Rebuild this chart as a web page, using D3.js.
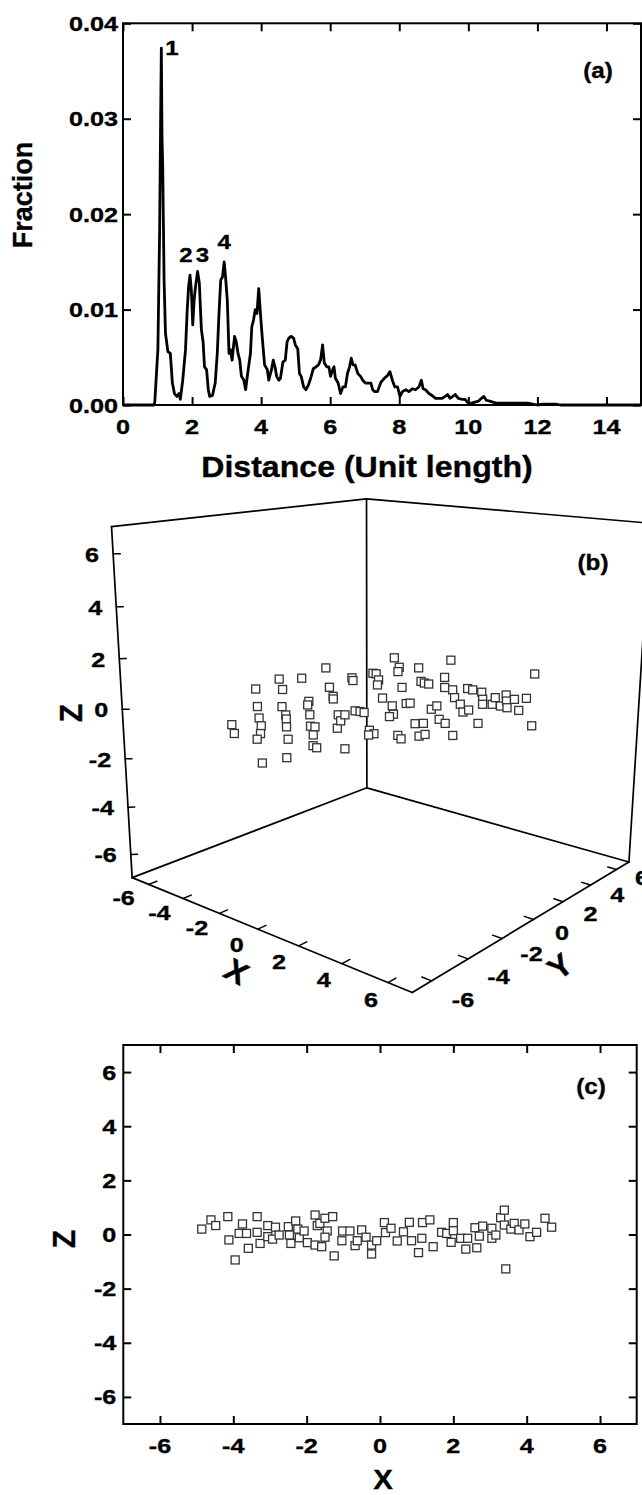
<!DOCTYPE html>
<html><head><meta charset="utf-8">
<script src="https://cdn.jsdelivr.net/npm/d3@7"></script>
<style>
html,body{margin:0;padding:0;background:#fff;}
svg{display:block;}
text{font-family:"Liberation Sans",Arial,Helvetica,sans-serif;font-weight:bold;fill:#000;stroke:#000;stroke-width:0.35px;}
</style></head><body>
<svg id="chart" width="642" height="1495"></svg>
<script>
// ---------------- Panel (a) data ----------------
const distance = [0,0.90,0.92,1.01,1.06,1.09,1.11,1.13,1.15,1.19,1.23,1.30,1.37,1.43,1.49,1.56,1.62,1.66,1.73,1.81,1.86,1.90,1.94,1.98,2.02,2.06,2.10,2.16,2.21,2.27,2.32,2.36,2.42,2.47,2.51,2.59,2.67,2.73,2.78,2.83,2.88,2.93,2.97,3.02,3.07,3.11,3.16,3.23,3.28,3.33,3.38,3.43,3.50,3.55,3.61,3.69,3.73,3.78,3.83,3.88,3.93,3.98,4.03,4.10,4.18,4.22,4.30,4.35,4.40,4.45,4.51,4.56,4.63,4.70,4.75,4.80,4.87,4.94,4.99,5.06,5.11,5.16,5.23,5.30,5.37,5.45,5.51,5.59,5.66,5.72,5.78,5.83,5.90,5.96,6.01,6.07,6.11,6.15,6.23,6.30,6.37,6.44,6.50,6.56,6.61,6.66,6.72,6.80,6.88,6.94,7.02,7.10,7.18,7.23,7.29,7.37,7.47,7.57,7.66,7.73,7.80,7.87,7.95,8.02,8.09,8.19,8.28,8.38,8.47,8.57,8.64,8.69,8.76,8.86,8.95,9.05,9.14,9.24,9.33,9.40,9.47,9.55,9.62,9.71,9.81,9.90,10.00,10.10,10.19,10.29,10.38,10.45,10.52,10.62,10.71,10.81,10.90,11.00,11.14,11.29,11.43,11.57,11.72,11.86,12.00,12.15,12.34,12.53,12.67,15];
const fraction = [0,0,0.0003,0.0058,0.0180,0.0300,0.0374,0.0280,0.0250,0.0130,0.0075,0.0056,0.0054,0.0023,0.0012,0.0009,0.0012,0.0006,0.0026,0.0058,0.0100,0.0124,0.0136,0.0120,0.0084,0.0110,0.0124,0.0140,0.0128,0.0079,0.0066,0.0040,0.0037,0.0016,0.0009,0.0010,0.0023,0.0054,0.0096,0.0131,0.0134,0.0150,0.0134,0.0110,0.0054,0.0058,0.0047,0.0072,0.0066,0.0054,0.0047,0.0030,0.0026,0.0016,0.0033,0.0054,0.0082,0.0089,0.0100,0.0096,0.0122,0.0096,0.0072,0.0042,0.0037,0.0026,0.0037,0.0047,0.0040,0.0030,0.0026,0.0028,0.0045,0.0047,0.0066,0.0070,0.0072,0.0070,0.0063,0.0059,0.0033,0.0030,0.0019,0.0016,0.0021,0.0030,0.0038,0.0040,0.0042,0.0047,0.0063,0.0044,0.0040,0.0040,0.0030,0.0037,0.0040,0.0028,0.0023,0.0012,0.0019,0.0019,0.0033,0.0040,0.0049,0.0042,0.0042,0.0033,0.0030,0.0026,0.0023,0.0023,0.0023,0.0016,0.0014,0.0014,0.0024,0.0028,0.0031,0.0035,0.0026,0.0019,0.0019,0.0009,0.0014,0.0016,0.0014,0.0017,0.0016,0.0019,0.0026,0.0017,0.0016,0.0012,0.0010,0.0007,0.0007,0.0007,0.0009,0.0011,0.0007,0.0009,0.0011,0.0007,0.0006,0.0006,0.0002,0.0002,0.0003,0.0004,0.0007,0.0009,0.0005,0.0004,0.0003,0.0002,0.0002,0.0002,0.0002,0.0002,0.0002,0.0002,0.0002,0.0001,0,0.0001,0.0001,0.0001,0,0];
const aXTicks = [0,2,4,6,8,10,12,14];
const aYTicks = [0,0.01,0.02,0.03,0.04];
const aYLabels = ["0.00","0.01","0.02","0.03","0.04"];
const peakText = ["1","2","3","4"];
const peakTextX = [1.42,1.82,2.30,2.93];
const peakTextY = [0.0367,0.0150,0.0150,0.0164];

// ---------------- Panel (b) data (x, y, z) ----------------
const bx = [-2.38,-1.50,-2.69,-3.46,-2.27,-1.48,-0.80,-0.40,-1.61,-3.10,-4.56,-2.75,-1.82,-1.42,-0.70,0.41,-0.31,-2.55,-2.51,-2.18,-1.17,-0.11,0.07,0.71,1.58,1.83,-3.00,-3.39,-2.31,-2.04,-0.37,0.79,0.24,-0.18,2.63,-3.75,-3.41,-0.26,-0.06,0.15,-3.61,-3.44,-2.68,-2.17,1.82,2.22,2.18,-0.68,-2.09,-3.46,-3.00,-1.16,0.34,1.12,1.22,2.98,3.33,0.53,0.61,-2.76,-1.20,-0.93,-0.69,2.52,2.72,3.60,3.63,1.76,1.63,2.83,3.32,4.44,0.42,-0.88,0.15,0.62,1.40,2.16,2.90,2.89,4.22,0.95,1.23,1.72,2.38,2.81,3.09,2.61,3.47,2.70,3.23,3.80,3.32,4.35,3.59,3.80,4.04];
const by = [-5.74,-6.44,-4.22,-3.42,-4.49,-5.15,-5.85,-6.40,-5.02,-2.59,-0.96,-2.82,-3.56,-3.94,-4.66,-5.71,-5.07,-1.93,-1.60,-2.01,-2.96,-4.04,-4.00,-4.77,-5.70,-5.79,-0.09,0.53,-0.43,-0.72,-2.28,-3.61,-2.82,-2.12,-5.26,2.30,1.98,-1.46,-1.41,-1.42,3.48,3.49,2.75,2.08,-3.06,-3.28,-3.52,0.63,3.05,5.05,4.40,2.42,-0.01,-0.88,-1.23,-2.89,-3.14,0.60,0.74,5.51,3.70,3.58,3.56,-1.35,-1.12,-2.48,-2.18,0.58,1.09,-0.33,-0.61,-1.65,3.55,4.88,3.53,3.44,2.52,1.87,1.04,1.41,0.16,4.00,3.96,3.89,3.03,2.42,2.66,3.55,2.66,4.17,3.42,2.62,3.83,2.59,4.26,4.46,4.01];
const bz = [0,0,1,0,0,0,0,0,-1.5,1,0,0,0,0,0,0,-1,1,0,0,0,0,0,0,0,0,1,0,0,0,0,0,0,0,0,0,0,0,0,0,0,0,0,0,0,0,0,0,1,0,0,0,0,0,0,0,0,0,0,0,0,0,0,0,0,0,0,0,0,0,0,0,1.2,0,0,0,0,0,0,0,0,0,0,0,0,0,0,0,0,0,0,0,0,0,0,1,-1];
const bTicks = [-6,-4,-2,0,2,4,6];

// ---------------- Panel (c) data (X, Z) ----------------
const cx = [-4.86,-4.61,-4.48,-4.15,-4.12,-3.95,-3.84,-3.75,-3.64,-3.59,-3.35,-3.35,-3.27,-3.06,-3.06,-2.93,-2.85,-2.75,-2.50,-2.47,-2.43,-2.30,-2.24,-2.20,-2.07,-1.98,-1.77,-1.71,-1.77,-1.64,-1.50,-1.29,-1.44,-1.50,-1.59,-1.25,-1.02,-1.04,-0.82,-0.68,-0.62,-0.50,-0.38,-0.23,-0.23,-0.09,0.12,0.15,0.30,0.47,0.64,0.80,0.86,1.05,1.14,1.16,1.36,1.45,1.68,1.82,1.94,2.00,2.00,2.20,2.34,2.39,2.59,2.64,2.71,2.80,3.05,3.05,3.16,3.29,3.39,3.43,3.39,3.57,3.66,3.79,3.95,4.09,4.27,4.50,4.68];
const cz = [0.20,0.54,0.33,0.66,-0.20,-0.94,0.04,0.39,0.04,-0.51,0.66,0.08,-0.33,0.33,-0.08,-0.17,0.27,-0.02,0.29,-0.02,-0.33,0.50,0.20,-0.12,0.13,-0.30,0.72,0.33,-0.39,0.41,0.60,0.66,0.13,-0.10,-0.45,-0.79,0.13,-0.23,0.13,-0.41,-0.23,0.17,-0.10,-0.39,-0.72,-0.23,0.44,0.07,0.23,-0.24,0.10,0.45,-0.23,-0.67,-0.14,0.44,0.54,-0.45,0.08,0.04,-0.29,0.44,0.14,-0.14,-0.54,-0.14,0.25,-0.49,-0.06,0.31,0.23,-0.14,-0.02,0.62,0.90,-1.27,0.35,0.20,0.41,0.17,0.39,-0.08,0.08,0.60,0.27];
const cTicks = [-6,-4,-2,0,2,4,6];

// ---------------- helpers ----------------
const svg = d3.select('#chart');
const TICK_FS = 21, TICK_SX = 1.2;
function label(g, x, y, s, o = {}) {
  const size = o.size || TICK_FS, anchor = o.anchor || 'middle', rot = o.rot || 0;
  const sx = o.sx == null ? TICK_SX : o.sx;
  return g.append('text')
    .attr('transform', `translate(${x},${y}) scale(${sx},1) rotate(${rot})`)
    .attr('text-anchor', anchor).style('font-size', size + 'px').text(s);
}
function styleAxis(sel) {
  sel.select('.domain').remove();
  sel.selectAll('.tick line').attr('stroke', '#000').attr('stroke-width', 2);
  sel.selectAll('.tick text').remove();
}

// ---------------- Panel (a) ----------------
{
  const g = svg.append('g');
  const xA = d3.scaleLinear().domain([0, 15]).range([123, 641]);
  const yA = d3.scaleLinear().domain([0, 0.04]).range([405, 23.3]);
  const [x0, x1] = xA.range(), [y0, y1] = yA.range();
  g.append('g').attr('transform', `translate(0,${y0})`).call(d3.axisBottom(xA).tickValues(aXTicks).tickSize(-8)).call(styleAxis);
  g.append('g').attr('transform', `translate(0,${y1})`).call(d3.axisTop(xA).tickValues(aXTicks).tickSize(-8)).call(styleAxis);
  g.append('g').attr('transform', `translate(${x0},0)`).call(d3.axisLeft(yA).tickValues(aYTicks).tickSize(-8)).call(styleAxis);
  g.append('g').attr('transform', `translate(${x1},0)`).call(d3.axisRight(yA).tickValues(aYTicks).tickSize(-8)).call(styleAxis);
  g.append('rect').attr('x', x0).attr('y', y1).attr('width', x1 - x0).attr('height', y0 - y1)
    .attr('fill', 'none').attr('stroke', '#000').attr('stroke-width', 2);
  const pts = distance.map((d, i) => [d, fraction[i]]);
  g.append('path').datum(pts)
    .attr('d', d3.line().x(d => xA(d[0])).y(d => yA(d[1])))
    .attr('fill', 'none').attr('stroke', '#000').attr('stroke-width', 2.8).attr('stroke-linejoin', 'round');
  aXTicks.forEach(t => label(g, xA(t), y0 + 29, String(t)));
  aYTicks.forEach((t, i) => label(g, x0 - 5, yA(t) + 7.5, aYLabels[i], { anchor: 'end' }));
  peakText.forEach((s, i) => label(g, xA(peakTextX[i]), yA(peakTextY[i]), s, { size: 20 }));
  label(g, 598, 78, '(a)', { size: 22, sx: 1.1 });
  label(g, 367, 477, 'Distance (Unit length)', { size: 30, sx: 1.07 });
  label(g, 32, 195, 'Fraction', { size: 27, sx: 1.05, rot: -90 });
}

// ---------------- Panel (b): perspective 3D box ----------------
{
  const g = svg.append('g');
  // camera calibration: box corners (world) -> picture position
  const calib = [
    [[-7,-7,-7],[131.7,877.7]], [[-7,-7,7],[110,527.3]], [[-7,7,-7],[366.7,787.7]],
    [[-7,7,7],[366.7,499.3]], [[7,-7,-7],[412.7,992.7]], [[7,7,-7],[630,861.7]],
    [[7,7,7],[651,524]], [[-7,-7,0],[123.3,709]], [[-7,7,0],[366.7,647.9]],
    [[7,7,0],[638.6,698.2]], [[7,-7,0],[414.4,788.4]], [[-7,-7,6],[113.3,553.3]],
    [[-7,-7,-6],[130.7,854]], [[0,-7,-7],[259.7,930]], [[7,0,-7],[530.7,921]]
  ];
  const CU = 380, CV = 750, SC = 300;
  const A = [], b = [];
  calib.forEach(([w, s]) => {
    const X = w[0] / 7, Y = w[1] / 7, Z = w[2] / 7;
    const u = (s[0] - CU) / SC, v = (s[1] - CV) / SC;
    A.push([X, Y, Z, 1, 0, 0, 0, 0, -u * X, -u * Y, -u * Z]); b.push(u);
    A.push([0, 0, 0, 0, X, Y, Z, 1, -v * X, -v * Y, -v * Z]); b.push(v);
  });
  const n = 11;
  const M = Array.from({ length: n }, (_, i) => {
    const row = new Array(n + 1).fill(0);
    for (let j = 0; j < n; j++) for (let k = 0; k < A.length; k++) row[j] += A[k][i] * A[k][j];
    for (let k = 0; k < A.length; k++) row[n] += A[k][i] * b[k];
    return row;
  });
  for (let c = 0; c < n; c++) {
    let p = c;
    for (let r = c + 1; r < n; r++) if (Math.abs(M[r][c]) > Math.abs(M[p][c])) p = r;
    [M[c], M[p]] = [M[p], M[c]];
    for (let r = 0; r < n; r++) if (r !== c) {
      const f = M[r][c] / M[c][c];
      for (let k = c; k <= n; k++) M[r][k] -= f * M[c][k];
    }
  }
  const P = M.map((r, i) => r[n] / r[i]);
  const proj = (x, y, z) => {
    const X = x / 7, Y = y / 7, Z = z / 7;
    const den = P[8] * X + P[9] * Y + P[10] * Z + 1;
    return [CU + SC * (P[0] * X + P[1] * Y + P[2] * Z + P[3]) / den,
            CV + SC * (P[4] * X + P[5] * Y + P[6] * Z + P[7]) / den];
  };
  const L = 7;
  const edges = [
    [[-L,-L,-L],[-L,-L,L]], [[-L,L,-L],[-L,L,L]], [[L,L,-L],[L,L,L]],
    [[-L,-L,L],[-L,L,L]], [[-L,L,L],[L,L,L]],
    [[-L,-L,-L],[-L,L,-L]], [[-L,L,-L],[L,L,-L]],
    [[-L,-L,-L],[L,-L,-L]], [[L,-L,-L],[L,L,-L]]
  ];
  const seg = (a, c, w) => {
    const p = proj(...a), q = proj(...c);
    g.append('line').attr('x1', p[0]).attr('y1', p[1]).attr('x2', q[0]).attr('y2', q[1])
      .attr('stroke', '#000').attr('stroke-width', w).attr('stroke-linecap', 'round');
  };
  edges.forEach(e => seg(e[0], e[1], 1.7));
  bTicks.forEach(t => {
    seg([-L, -L, t], [-L + 0.18, -L + 0.18, t], 1.5);
    seg([t, -L, -L], [t, -L + 0.4, -L], 1.5);
    seg([L, t, -L], [L - 0.4, t, -L], 1.5);
  });
  bTicks.forEach(t => {
    const pz = proj(-L, -L, t);
    label(g, pz[0] - 14, pz[1] + 8, String(t), { anchor: 'end' });
    const px = proj(t, -L, -L);
    label(g, px[0] - 21 + 0.67 * t, px[1] + 15.5 + 0.3 * t + 7, String(t));
    const py = proj(L, t, -L);
    label(g, py[0] + 28.5 - 0.5 * t, py[1] + 14 - 0.9 * t + 7, String(t));
  });
  label(g, 82, 713, 'Z', { size: 30, sx: 1.05, rot: -90 });
  label(g, 231, 981, 'X', { size: 31, sx: 1.05, rot: 30 });
  label(g, 567, 975, 'Y', { size: 31, sx: 1.05, rot: -38 });
  label(g, 593, 570, '(b)', { size: 22, sx: 1.1 });
  const S = 8;
  bx.forEach((x, i) => {
    const p = proj(x, by[i], bz[i]);
    g.append('rect').attr('x', p[0] - S / 2).attr('y', p[1] - S / 2).attr('width', S).attr('height', S)
      .attr('fill', '#fff').attr('stroke', '#333').attr('stroke-width', 1.3);
  });
}

// ---------------- Panel (c) ----------------
{
  const g = svg.append('g');
  const xC = d3.scaleLinear().domain([-7, 7]).range([123.3, 636.7]);
  const yC = d3.scaleLinear().domain([-7, 7]).range([1424, 1045]);
  const [x0, x1] = xC.range(), [y0, y1] = yC.range();
  g.append('g').attr('transform', `translate(0,${y0})`).call(d3.axisBottom(xC).tickValues(cTicks).tickSize(-8)).call(styleAxis);
  g.append('g').attr('transform', `translate(0,${y1})`).call(d3.axisTop(xC).tickValues(cTicks).tickSize(-8)).call(styleAxis);
  g.append('g').attr('transform', `translate(${x0},0)`).call(d3.axisLeft(yC).tickValues(cTicks).tickSize(-8)).call(styleAxis);
  g.append('g').attr('transform', `translate(${x1},0)`).call(d3.axisRight(yC).tickValues(cTicks).tickSize(-8)).call(styleAxis);
  g.append('rect').attr('x', x0).attr('y', y1).attr('width', x1 - x0).attr('height', y0 - y1)
    .attr('fill', 'none').attr('stroke', '#000').attr('stroke-width', 2);
  cTicks.forEach(t => label(g, xC(t), y0 + 28.5, String(t)));
  cTicks.forEach(t => label(g, x0 - 7, yC(t) + 7.5, String(t), { anchor: 'end' }));
  label(g, 383, 1489, 'X', { size: 28, sx: 1.05 });
  label(g, 75, 1239, 'Z', { size: 30, sx: 1.05, rot: -90 });
  label(g, 591, 1094, '(c)', { size: 22, sx: 1.1 });
  const S = 8;
  cx.forEach((x, i) => {
    g.append('rect').attr('x', xC(x) - S / 2).attr('y', yC(cz[i]) - S / 2).attr('width', S).attr('height', S)
      .attr('fill', '#fff').attr('stroke', '#333').attr('stroke-width', 1.3);
  });
}
</script>
</body></html>
